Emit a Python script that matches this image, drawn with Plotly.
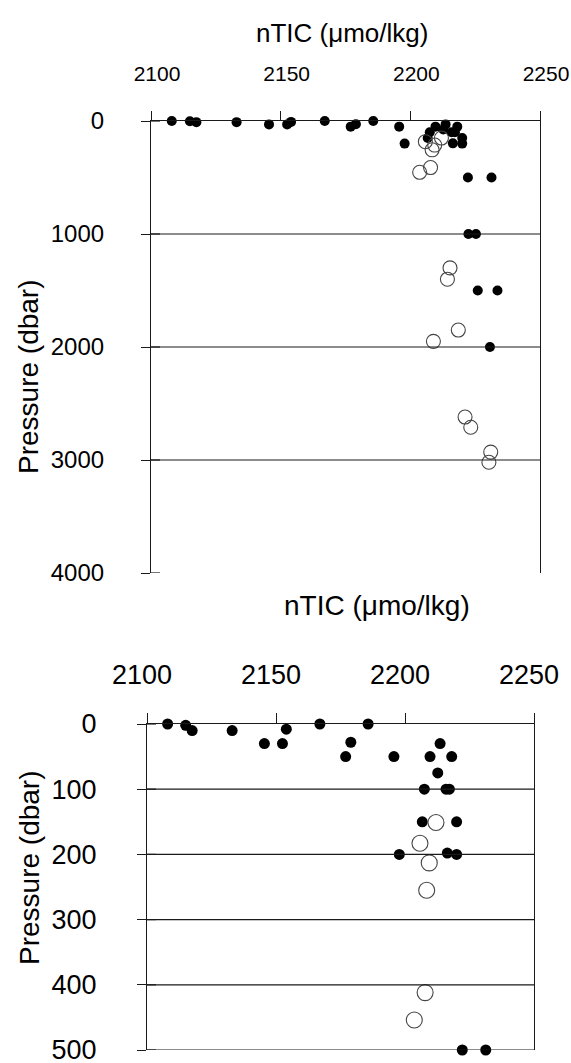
import plotly.graph_objects as go

# ---------------- data ----------------
filled_tic = [2108, 2115, 2117.5, 2133, 2145.5, 2152.5, 2154, 2167, 2185.7, 2179,
              2177, 2195.7, 2209.7, 2213.6, 2218.1, 2212.7, 2207.5, 2215.9, 2217.2,
              2206.7, 2220, 2197.8, 2216.4, 2220, 2222.2, 2231.3, 2222.4, 2225.3,
              2226, 2233.6, 2230.7]
filled_p = [0, 2, 10, 10, 30, 30, 8, 0, 0, 28,
            50, 50, 50, 30, 50, 75, 100, 100, 100,
            150, 150, 200, 198, 200, 500, 500, 1000, 1000,
            1500, 1500, 2000]

open_tic = [2212, 2205.8, 2209.4, 2208.4, 2207.8, 2203.6, 2215.3, 2214.3,
            2218.5, 2208.9, 2221.1, 2223.3, 2231, 2230.3]
open_p = [151, 183, 213, 255, 412, 454, 1300, 1400,
          1850, 1950, 2620, 2710, 2930, 3020]

x_ticks = [2100, 2150, 2200, 2250]
top_y_ticks = [0, 1000, 2000, 3000, 4000]
top_grid = [1000, 2000, 3000]
bot_y_ticks = [0, 100, 200, 300, 400, 500]
bot_grid = [100, 200, 300, 400, 500]
bot_max = 500

x_title = "nTIC (μmo/lkg)"
y_title = "Pressure (dbar)"

# ---------------- layout helpers ----------------
W, H = 571, 1063
def px(x): return x / W
def py(y): return 1 - y / H

FONT = "Liberation Sans, Arial, sans-serif"
AX = "#1a1a1a"

fig = go.Figure()

# top panel
fig.add_trace(go.Scatter(x=filled_tic, y=filled_p, mode="markers", xaxis="x", yaxis="y",
                         marker=dict(size=10, color="black", line=dict(width=0)),
                         cliponaxis=False, showlegend=False))
fig.add_trace(go.Scatter(x=open_tic, y=open_p, mode="markers", xaxis="x", yaxis="y",
                         marker=dict(size=14, color="rgba(255,255,255,0)",
                                     line=dict(width=1.1, color="#444")),
                         cliponaxis=False, showlegend=False))

# bottom panel (only values within 0-500 dbar)
bf = [(a, b) for a, b in zip(filled_tic, filled_p) if b <= bot_max]
bo = [(a, b) for a, b in zip(open_tic, open_p) if b <= bot_max]
fig.add_trace(go.Scatter(x=[a for a, _ in bf], y=[b for _, b in bf], mode="markers",
                         xaxis="x2", yaxis="y2",
                         marker=dict(size=11, color="black", line=dict(width=0)),
                         cliponaxis=False, showlegend=False))
fig.add_trace(go.Scatter(x=[a for a, _ in bo], y=[b for _, b in bo], mode="markers",
                         xaxis="x2", yaxis="y2",
                         marker=dict(size=16, color="rgba(255,255,255,0)",
                                     line=dict(width=1.1, color="#444")),
                         cliponaxis=False, showlegend=False))

common_x = dict(range=[2100, 2250], tickvals=x_ticks, side="top", showline=True,
                linecolor=AX, linewidth=1.2, ticks="outside", tickcolor=AX,
                tickwidth=1.2, showgrid=False, zeroline=False, automargin=False,
                ticklabeloverflow="allow")
common_y = dict(showline=True, linecolor=AX, linewidth=1.2, mirror=True,
                ticks="outside", ticklen=9, tickcolor=AX, tickwidth=1.2,
                showgrid=False, zeroline=False, automargin=False,
                ticklabeloverflow="allow")

fig.update_layout(
    width=W, height=H, margin=dict(l=0, r=0, t=0, b=0),
    paper_bgcolor="white", plot_bgcolor="white",
    xaxis=dict(**common_x, domain=[px(151), px(540)], anchor="y", ticklen=9,
               tickfont=dict(family=FONT, size=21, color="black"),
               ticklabelstandoff=22, ticklabelshift=6),
    yaxis=dict(**common_y, domain=[py(573), py(121)], anchor="x",
               range=[4000, 0], tickvals=top_y_ticks,
               tickfont=dict(family=FONT, size=24, color="black"),
               ticklabelstandoff=32),
    xaxis2=dict(**common_x, domain=[px(147), px(534)], anchor="y2", ticklen=10,
                tickfont=dict(family=FONT, size=27, color="black"),
                ticklabelstandoff=18, ticklabelshift=-5),
    yaxis2=dict(**common_y, domain=[py(1050), py(724)], anchor="x2",
                range=[500, 0], tickvals=bot_y_ticks,
                tickfont=dict(family=FONT, size=27, color="black"),
                ticklabelstandoff=35),
)

shapes = []
for g in top_grid:
    shapes.append(dict(type="line", xref="x domain", yref="y", x0=0, x1=1, y0=g, y1=g,
                       line=dict(color=AX, width=1.2)))
for g in bot_grid:
    shapes.append(dict(type="line", xref="x2 domain", yref="y2", x0=0, x1=1, y0=g, y1=g,
                       line=dict(color=AX, width=1.2)))
# inner halves of the crossing y ticks
for t in top_y_ticks:
    shapes.append(dict(type="line", xref="x domain", yref="y", x0=0, x1=9 / 389, y0=t, y1=t,
                       line=dict(color=AX, width=1.2)))
for t in bot_y_ticks:
    shapes.append(dict(type="line", xref="x2 domain", yref="y2", x0=0, x1=9 / 387, y0=t, y1=t,
                       line=dict(color=AX, width=1.2)))
fig.update_layout(shapes=shapes)

ann = [
    dict(text=x_title, x=px(342), y=py(33), font=dict(family=FONT, size=26, color="black")),
    dict(text=x_title, x=px(377), y=py(605), font=dict(family=FONT, size=28, color="black")),
    dict(text=y_title, x=px(28), y=py(377), textangle=-90,
         font=dict(family=FONT, size=28, color="black")),
    dict(text=y_title, x=px(29), y=py(868), textangle=-90,
         font=dict(family=FONT, size=28, color="black")),
]
for a in ann:
    a.update(xref="paper", yref="paper", showarrow=False, xanchor="center", yanchor="middle")
fig.update_layout(annotations=ann)

fig.write_html("out.html", config={"displayModeBar": False},
               post_script="document.body.style.margin='0';")
